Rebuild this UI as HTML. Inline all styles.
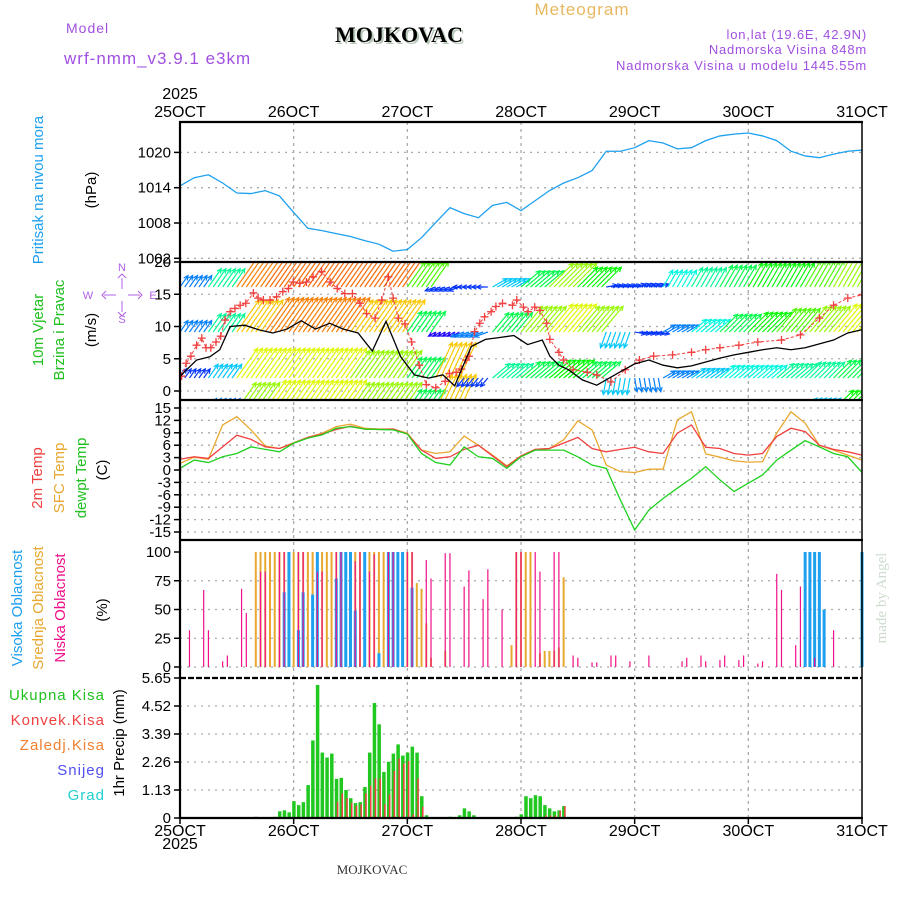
<!DOCTYPE html>
<html><head><meta charset="utf-8"><title>Meteogram MOJKOVAC</title>
<style>
html,body{margin:0;padding:0;background:#fff;}
svg{display:block;font-family:"Liberation Sans",sans-serif;}
</style></head>
<body>
<svg id="chart" width="900" height="900" viewBox="0 0 900 900" xmlns="http://www.w3.org/2000/svg">
<rect x="0" y="0" width="900" height="900" fill="#fff"/>
<text x="582" y="15" font-size="17" fill="#e8b860" text-anchor="middle" letter-spacing="1">Meteogram</text>
<text x="66" y="33" font-size="14" fill="#a050e0" letter-spacing="1">Model</text>
<text x="64" y="64" font-size="17" fill="#a050e0" letter-spacing="1">wrf-nmm_v3.9.1 e3km</text>
<text x="401" y="44" font-size="22" font-weight="bold" font-family="Liberation Serif, serif" fill="#b8c8b8" text-anchor="middle">MOJKOVAC</text>
<text x="399" y="42" font-size="22" font-weight="bold" font-family="Liberation Serif, serif" fill="#000" text-anchor="middle">MOJKOVAC</text>
<text x="867" y="39" font-size="13" fill="#a050e0" text-anchor="end" letter-spacing="0.8">lon,lat (19.6E, 42.9N)</text>
<text x="867" y="54" font-size="13" fill="#a050e0" text-anchor="end" letter-spacing="0.8">Nadmorska Visina 848m</text>
<text x="867" y="70" font-size="13" fill="#a050e0" text-anchor="end" letter-spacing="0.8">Nadmorska Visina u modelu 1445.55m</text>
<text x="180" y="99" font-size="16" text-anchor="middle">2025</text>
<text x="180" y="837" font-size="16" text-anchor="middle" dy="12">2025</text>
<text x="372" y="874" font-size="13" font-family="Liberation Serif, serif" fill="#333" text-anchor="middle">MOJKOVAC</text>
<text transform="translate(886,598) rotate(-90)" font-size="15" font-family="Liberation Serif, serif" fill="#cddccd" text-anchor="middle">made by Angel</text>
<text transform="translate(43,190) rotate(-90)" font-size="15" fill="#1ea0f0" text-anchor="middle">Pritisak na nivou mora</text>
<text transform="translate(96,190) rotate(-90)" font-size="15" fill="#000" text-anchor="middle">(hPa)</text>
<text transform="translate(43,330) rotate(-90)" font-size="15" fill="#20c020" text-anchor="middle">10m Vjetar</text>
<text transform="translate(64,330) rotate(-90)" font-size="15" fill="#20c020" text-anchor="middle">Brzina i Pravac</text>
<text transform="translate(96,330) rotate(-90)" font-size="15" fill="#000" text-anchor="middle">(m/s)</text>
<text transform="translate(42,478) rotate(-90)" font-size="15" fill="#f04040" text-anchor="middle">2m Temp</text>
<text transform="translate(64,478) rotate(-90)" font-size="15" fill="#e8a830" text-anchor="middle">SFC Temp</text>
<text transform="translate(86,478) rotate(-90)" font-size="15" fill="#20c020" text-anchor="middle">dewpt Temp</text>
<text transform="translate(107,470) rotate(-90)" font-size="15" fill="#000" text-anchor="middle">(C)</text>
<text transform="translate(22,608) rotate(-90)" font-size="15" fill="#1ea0f0" text-anchor="middle">Visoka Oblacnost</text>
<text transform="translate(43,608) rotate(-90)" font-size="15" fill="#e8a830" text-anchor="middle">Srednja Oblacnost</text>
<text transform="translate(65,608) rotate(-90)" font-size="15" fill="#f0108a" text-anchor="middle">Niska Oblacnost</text>
<text transform="translate(107,610) rotate(-90)" font-size="15" fill="#000" text-anchor="middle">(%)</text>
<text x="105" y="700" font-size="15" fill="#20c020" text-anchor="end" letter-spacing="1">Ukupna  Kisa</text>
<text x="105" y="725" font-size="15" fill="#f04040" text-anchor="end" letter-spacing="1">Konvek.Kisa</text>
<text x="105" y="750" font-size="15" fill="#f08030" text-anchor="end" letter-spacing="1">Zaledj.Kisa</text>
<text x="105" y="775" font-size="15" fill="#5050f0" text-anchor="end" letter-spacing="1">Snijeg</text>
<text x="105" y="800" font-size="15" fill="#20d0d0" text-anchor="end" letter-spacing="1">Grad</text>
<text transform="translate(124,743) rotate(-90)" font-size="15" fill="#000" text-anchor="middle">1hr Precip (mm)</text>
<g fill="#b060e8" stroke="#b060e8" font-size="11">
<text x="122" y="271" stroke="none" text-anchor="middle">N</text>
<text x="122" y="323" stroke="none" text-anchor="middle">S</text>
<text x="88" y="299" stroke="none" text-anchor="middle">W</text>
<text x="153" y="299" stroke="none" text-anchor="middle">E</text>
<path d="M122 278 V289 M122 301 V312 M104 295 H116 M128 295 H140 M118 278 L122 274 L126 278 M118 312 L122 316 L126 312 M106 291 L102 295 L106 299 M138 291 L142 295 L138 299" fill="none" stroke-width="1"/>
</g>
<g id="plot"></g>
</svg>
<script>
// ---------- data ----------
const dayLabels = ["25OCT","26OCT","27OCT","28OCT","29OCT","30OCT","31OCT"];
const pressTicks = [1002,1008,1014,1020];
const windTicks = [0,5,10,15,20];
const tempTicks = [-15,-12,-9,-6,-3,0,3,6,9,12,15];
const cloudTicks = [0,25,50,75,100];
const precipTicks = [0,1.13,2.26,3.39,4.52,5.65];
const pressure = [1014.3,1015.7,1016.2,1014.8,1013.1,1013,1013.5,1012.6,1009.8,1007.1,1006.7,1006.2,1005.7,1005,1004.4,1003.2,1003.5,1005.5,1008.1,1010.6,1009.6,1008.9,1011,1011.5,1010.1,1011.8,1013.5,1014.8,1015.7,1016.9,1020.2,1020.2,1020.8,1022,1021.6,1020.6,1020.8,1022,1022.8,1023.1,1023.3,1022.8,1022,1020.2,1019.4,1019.1,1019.7,1020.2,1020.4];
const temp2m = [2.6,3.2,2.8,5.6,8.4,7.4,5.6,5.2,6.5,7.9,8.7,9.8,10.6,9.9,9.8,9.9,8.7,4.8,2.8,3.2,5,6,3.4,0.8,3.4,5,5.2,6.5,7.9,5.2,4.4,5,5.5,4.4,4,8.9,10.9,5.5,5.2,4,3.6,4,8.1,10.1,9.3,6,5,4.4,3.6];
const tempSfc = [1.6,3.1,2.6,10.9,12.9,9.7,5.8,5.2,6.6,7.9,8.9,10.5,11.1,10.1,9.9,9.9,8.9,4.8,4,4.4,8.2,6,3.6,1,3.4,5,5.2,7.3,11.9,9.7,1.2,-0.4,-0.6,0.2,0.2,12.1,14.1,3.9,3.1,2.2,1.9,2,8.9,14.1,11.3,6,4.8,3.6,2.4];
const tempDew = [0.4,2.4,1.8,3.2,4,5.6,5,4.4,6.5,7.7,8.5,10.1,10.5,9.9,9.8,9.7,8.7,4,1.8,1.2,5.6,3.2,2.8,0.4,3.2,4.8,4.8,4.8,3.2,1.2,0.4,-7.3,-14.5,-9.7,-6.9,-4.4,-2,0.8,-2.4,-5.2,-3.2,-1.2,2.4,4.8,7.1,5.6,4,3.2,-0.6];
const windHours = [0,3.5,6.3,8.4,10.6,13.7,16.6,19.6,22.6,25.6,28.6,31.6,34.5,37.6,40.6,43.5,46.6,49.5,52.5,55.5,58,61.5,64.5,67.5,70.5,73.4,76.5,78.1,80,82,85,88,93,96,99,102,105,108,111,114,117,120,123,126,129,132,135,138,141,144];
const windSpeed = [2.3,4.8,5.3,6.4,10,10.2,9.5,9,9.6,10.9,9.6,10.5,9.6,9,6.2,10.8,5.3,2.5,2,2.5,0.8,6.9,8,8.3,8.6,7.2,7.9,5.4,4,3.3,1.7,0.9,3,4.2,4.8,4,3.6,3.9,4.5,5.1,5.6,6,6.4,6.7,6.4,6.7,7.3,7.9,9,9.5];
const gustHours = [0.35,1.3,2.3,3.5,4.6,5.5,6.5,7.6,8.6,9.5,10.6,11.6,12.7,13.9,15.5,16.5,17.6,19,20.4,21.7,22.9,23.9,25.3,26.7,28.1,29.9,31.7,33.2,34.8,36.4,38,39.4,41.2,42.6,44,45,46.1,47.5,48.9,50.5,52,54,56,56.9,58.3,59.4,60.4,61,62.2,63.3,64.3,65.7,66.7,68.1,70.2,71.1,72.5,73.5,74.9,76,77.4,78.1,80,81,83,86,88,91,94,97,100,104,108,111,114,118,122,127,131,135,138,141,144];
const gustSpeed = [2.3,4.3,5.4,7.1,8.2,6.7,6.7,7.6,8.5,11,12.3,12.8,13.3,13.6,15.2,14.4,14.1,14.1,14.6,15.4,15.9,16.9,16.7,16.9,17.7,18.5,16.9,15.9,15.1,15.1,13.6,12,11.3,14.1,17.7,14.4,11.3,10.4,7.6,4,1,0.5,1.5,2.7,2.9,3.4,4.8,5.4,9.2,10.5,11.5,12.3,13.1,13.6,13.3,14.1,13,12.3,13,12.5,10.5,8,6,4.8,3.3,2.9,2.5,1.4,3.3,4.8,5.4,5.6,6,6.4,6.7,7.1,7.6,7.9,8.7,11.3,13.3,14.4,14.9];
const arrowLevel4Speed = [5,8,15,16,16,16,16,16,11,4,4,6,9,12,10,4,4,7,8,9,10,10,11,12,12];
const arrowLevel4Dir = [35,35,35,35,35,35,35,35,35,250,270,60,50,45,45,80,75,30,30,30,30,30,30,30,30];
const arrowLevel3Speed = [5,8,14,15,15,15,14,14,9,3,5,9,12,13,12,6,4,5,7,9,10,11,12,13,13];
const arrowLevel3Dir = [35,35,35,35,35,35,35,35,35,240,250,40,40,40,40,200,100,60,50,45,45,40,40,40,40];
const arrowLevel2Speed = [4,6,13,13,13,13,12,12,9,14,4,8,9,10,9,6,5,5,6,7,7,8,8,9,9];
const arrowLevel2Dir = [35,35,35,35,35,35,35,35,35,25,220,50,50,50,50,190,170,60,55,50,50,50,45,45,45];
const arrowLevel1Speed = [3,5,12,13,13,13,12,12,9,14,3,3,3,3,3,3,2,2,3,3,3,4,6,10,11];
const arrowLevel1Dir = [35,35,35,35,35,35,35,35,35,25,220,50,50,50,50,190,170,60,55,50,50,50,45,45,45];
const lowHours = [2,5,6,9,10,13,14,17,18,21,22,25,26,29,30,33,34,37,38,40,41,44,45,48,49,52,53,56,57,60,61,64,65,68,71,72,75,76,79,80,83,84,87,88,91,92,95,99,106,107,110,111,114,115,118,119,122,123,126,127,130,131,134,138];
const lowVals = [32,67,32,5,10,68,47,83,83,100,100,100,100,83,83,100,100,92,100,83,98,100,100,100,100,93,77,99,99,70,84,59,85,50,100,100,100,83,100,100,10,8,4,4,10,10,5,10,5,8,10,5,6,10,6,10,3,5,81,67,19,70,8,32];
const midHours = [16,17,18,19,20,21,22,23,24,25,26,27,28,29,30,31,32,33,34,35,36,37,38,39,40,41,42,43,44,45,46,47,48,49,50,51,52,53,56,70,71,72,73,74,76,77,78,79,80,81];
const midVals = [100,100,100,100,100,100,100,100,100,100,100,100,100,100,100,100,100,100,100,100,100,100,100,94,100,100,100,100,100,100,100,100,100,100,73,68,38,8,14,19,100,100,100,100,12,14,14,14,17,78];
const highHours = [22,23,25,26,28,29,33,34,35,36,37,39,42,44,45,46,47,49,132,133,134,135,136,144];
const highVals = [65,100,32,65,63,100,77,100,100,100,49,100,12,100,100,100,100,69,100,100,100,100,50,100];
const precipHours = [16,20,21,22,23,24,25,26,27,28,29,30,31,32,33,34,35,36,37,38,39,40,41,42,43,44,45,46,47,48,49,50,51,52,57,59,60,61,62,71,72,73,74,75,76,77,78,79,80,81];
const precipTotal = [0.05,0.05,0.27,0.31,0.23,0.68,0.52,0.64,1.33,3.13,5.37,2.64,2.44,2.6,1.58,1.62,1.13,0.8,0.6,0.64,1.25,2.64,4.64,3.78,1.86,2.27,2.6,2.97,2.52,2.64,2.88,2.64,0.88,0.11,0.05,0.11,0.39,0.27,0.11,0.05,0.15,0.88,0.8,0.92,0.88,0.52,0.39,0.27,0.31,0.48];
const convHours = [33,34,35,36,37,38,39,40,41,42,43,44,45,46,47,48,49,50,51,77,78,79,80,81];
const convVals = [0.65,1.0,0.8,0.6,0.5,0.55,1.0,1.3,1.6,1.6,0.55,0.95,1.9,2.4,2.2,2.3,0.15,1.6,0.45,0.1,0.1,0.1,0.3,0.48];

// ---------- axes ----------
const X0 = 180, X1 = 862;
const xT = h => X0 + h * (X1 - X0) / 144;
const yP = p => 258.3 - (p - 1002) * 35.3 / 6;
const yW = v => 391 - v * 6.45;
const yT = t => 470 - t * 12.4 / 3;
const yC = c => 667 - c * 1.15;
const yR = r => 818 - r * 140 / 5.65;

const NS = "http://www.w3.org/2000/svg";
const plot = document.getElementById("plot");
function mk(tag, attrs, parent) {
  const e = document.createElementNS(NS, tag);
  for (const k in attrs) e.setAttribute(k, attrs[k]);
  (parent || plot).appendChild(e);
  return e;
}
function grp(name) {
  const g = mk("g", {});
  
  
  return g;
}

const defs = mk("defs", {});
const cp = mk("clipPath", {id: "windClip"}, defs);
mk("rect", {x: X0, y: 262, width: X1 - X0, height: 138}, cp);

const grid = grp('grid');
function hgrid(ys) {
  ys.forEach(y => {
    const l = mk("line", {x1: X0, x2: X1, y1: y, y2: y, stroke: "#aaa", "stroke-width": 1.3, "stroke-dasharray": "2,5"}, grid);
    
    
  });
}
hgrid(pressTicks.map(yP));
hgrid(windTicks.slice(0, 4).map(yW));
hgrid(tempTicks.map(yT));
hgrid(cloudTicks.slice(0, 4).map(yC));
hgrid(precipTicks.slice(1, 5).map(yR));
for (let d = 1; d < 6; d++) {
  const l = mk("line", {x1: xT(d * 24), x2: xT(d * 24), y1: 122, y2: 818, stroke: "#aaa", "stroke-width": 1.3, "stroke-dasharray": "3,4"}, grid);
  
  
}

const ticks = grp('tick-labels');
function ylabels(vals, fy, name) {
  vals.forEach(v => {
    const t = mk("text", {x: 171, y: fy(v) + 5, "font-size": 15, "text-anchor": "end"}, ticks);
    t.textContent = v;
    
    
    const m = mk("line", {x1: 174, x2: 180, y1: fy(v), y2: fy(v), stroke: "#000", "stroke-width": 1.5}, ticks);
    
    
  });
}
ylabels(pressTicks, yP, 'pressure-tick');
ylabels(windTicks, yW, 'wind-tick');
ylabels(tempTicks, yT, 'temp-tick');
ylabels(cloudTicks, yC, 'cloud-tick');
ylabels(precipTicks.map(v => v.toFixed(v === 0 ? 0 : 2)), v => yR(+v), 'precip-tick');
dayLabels.forEach((d, i) => {
  const t1 = mk("text", {x: xT(i * 24), y: 117, "font-size": 16, "text-anchor": "middle"}, ticks);
  t1.textContent = d;
  
  
  const t2 = mk("text", {x: xT(i * 24), y: 836, "font-size": 16, "text-anchor": "middle"}, ticks);
  t2.textContent = d;
  
  
});

const pLine = mk("polyline", {points: pressure.map((p, i) => xT(i * 3) + "," + yP(p)).join(" "), fill: "none", stroke: "#1ea0f0", "stroke-width": 1.3});



const wg = grp('wind-arrows');
wg.setAttribute("clip-path", "url(#windClip)");
function spdColor(s) { const h = Math.min(270, Math.max(25, 300 - s * 18)); return "hsl(" + h + ",95%,50%)"; }
const levels = [[arrowLevel1Speed, arrowLevel1Dir, 410], [arrowLevel2Speed, arrowLevel2Dir, 378], [arrowLevel3Speed, arrowLevel3Dir, 332], [arrowLevel4Speed, arrowLevel4Dir, 287]];
levels.forEach(([sp, dr, base]) => {
  for (let h = 0; h <= 144; h++) {
    const i = Math.min(24, Math.floor(h / 6));
    const s = sp[i], a = dr[i] * Math.PI / 180;
    const L = s * 2.8;
    const x0 = xT(h), y0 = base;
    const x1 = x0 + L * Math.sin(a), y1 = y0 - L * Math.cos(a);
    const hx1 = x1 - 5 * Math.sin(a - 0.45), hy1 = y1 + 5 * Math.cos(a - 0.45);
    const hx2 = x1 - 5 * Math.sin(a + 0.45), hy2 = y1 + 5 * Math.cos(a + 0.45);
    const p = mk("path", {d: `M${x0},${y0}L${x1},${y1}M${hx1},${hy1}L${x1},${y1}L${hx2},${hy2}`, fill: "none", stroke: spdColor(s), "stroke-width": 1.2}, wg);
    
    
  }
});
const wl = grp('wind-lines');
wl.setAttribute("clip-path", "url(#windClip)");
const gLine = mk("polyline", {points: gustHours.map((h, i) => xT(h) + "," + yW(gustSpeed[i])).join(" "), fill: "none", stroke: "#f04040", "stroke-width": 1, "stroke-dasharray": "3,2"}, wl);


gustHours.forEach((h, i) => {
  const x = xT(h), y = yW(gustSpeed[i]);
  const m = mk("path", {d: `M${x - 4},${y}H${x + 4}M${x},${y - 4}V${y + 4}`, stroke: "#f04040", "stroke-width": 1.3}, wl);
  
  
});
const wLine = mk("polyline", {points: windHours.map((h, i) => xT(h) + "," + yW(windSpeed[i])).join(" "), fill: "none", stroke: "#000", "stroke-width": 1.3}, wl);



[[tempSfc, "#e8a830", 'sfc-temp-line'], [temp2m, "#f04040", 'temp-2m-line'], [tempDew, "#20d020", 'dewpoint-line']].forEach(([arr, col, name]) => {
  const l = mk("polyline", {points: arr.map((t, i) => xT(i * 3) + "," + yT(t)).join(" "), fill: "none", stroke: col, "stroke-width": 1.3});
  
  
});

const cg = grp('cloud-bars');
function cbars(hours, vals, col, w, name) {
  hours.forEach((h, i) => {
    const x = xT(h), y = yC(vals[i]);
    const r = mk("rect", {x: x - w / 2, y: y, width: w, height: yC(0) - y, fill: col}, cg);
    
    
  });
}
cbars(midHours, midVals, "#e8a830", 2, 'mid-cloud-bar');
cbars(highHours, highVals, "#1ea0f0", 3, 'high-cloud-bar');
cbars(lowHours, lowVals, "#f0108a", 1.2, 'low-cloud-bar');

const rg = grp('precip-bars');
precipHours.forEach((h, i) => {
  const x = xT(h), y = yR(precipTotal[i]);
  const r = mk("rect", {x: x - 1.5, y: y, width: 3.5, height: 818 - y, fill: "#20c820"}, rg);
  
  
});
convHours.forEach((h, i) => {
  const x = xT(h), y = yR(convVals[i]);
  const r = mk("rect", {x: x + 0.5, y: y, width: 1.5, height: 818 - y, fill: "#f04040"}, rg);
  
  
});

const fr = grp('panel-frames');
[122, 262, 400, 540, 818].forEach(y => {
  const l = mk("line", {x1: X0 - 1, x2: X1 + 1, y1: y, y2: y, stroke: "#000", "stroke-width": 2.2}, fr);
  
  
});
const dl = mk("line", {x1: X0, x2: X1, y1: 678, y2: 678, stroke: "#000", "stroke-width": 2.2, "stroke-dasharray": "6,2"}, fr);


const la = mk("line", {x1: X0, x2: X0, y1: 121, y2: 819, stroke: "#000", "stroke-width": 2.2}, fr);


const ra = mk("line", {x1: X1, x2: X1, y1: 121, y2: 819, stroke: "#000", "stroke-width": 1.5}, fr);


for (let h = 0; h <= 144; h += 24) {
  const t = mk("line", {x1: xT(h), x2: xT(h), y1: 818, y2: 824, stroke: "#000", "stroke-width": 1.5}, fr);
  
  
}
</script>
</body></html>
